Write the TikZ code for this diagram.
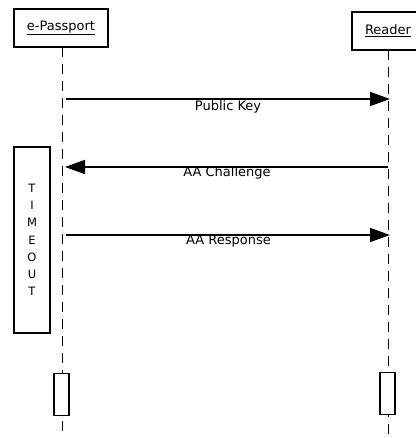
\documentclass[tikz,border=0pt]{standalone}
\usepackage{fontspec}
\setmainfont{DejaVu Sans}
\usetikzlibrary{arrows.meta}
\begin{document}
\begin{tikzpicture}[x=1pt,y=-1pt,
  lbl/.style={font=\fontsize{13}{15}\selectfont, inner sep=0pt},
  actor/.style={draw, line width=1.6pt, fill=white, minimum width=94pt, minimum height=38pt, inner sep=0pt, font=\fontsize{13}{15}\selectfont},
  life/.style={line width=0.9pt, dash pattern=on 10pt off 7pt},
  msg/.style={line width=1.6pt, -{Triangle[length=20pt,width=14pt]}},
  actbox/.style={draw, line width=1.6pt, fill=white},
]
\useasboundingbox (0,0) rectangle (415,438);
% lifelines
\coordinate (pTop) at (62,47);
\coordinate (pBot) at (62,438);
\coordinate (rTop) at (388,50);
\coordinate (rBot) at (388,438);
\draw[life] (pTop) -- (pBot);
\draw[life] (rTop) -- (rBot);
% actor boxes
\node[actor] (pass) at (61,28) {\underline{e-Passport}};
\node[actor, minimum width=72pt] (rdr) at (388,31) {\underline{Reader}};
% messages
\coordinate (m1s) at (66,99);  \coordinate (m1e) at (390,99);
\coordinate (m2s) at (388,167); \coordinate (m2e) at (65,167);
\coordinate (m3s) at (66,235); \coordinate (m3e) at (390,235);
\draw[msg] (m1s) -- (m1e);
\draw[msg] (m2s) -- (m2e);
\draw[msg] (m3s) -- (m3e);
\node[lbl, anchor=north] (l1) at (228,100) {Public Key};
\node[lbl, anchor=north] (l2) at (227,166.5) {AA Challenge};
\node[lbl, anchor=north] (l3) at (228.5,234.5) {AA Response};
% timeout box
\draw[line width=1.4pt] (14,147) rectangle (50,333);
\node[lbl, align=center, font=\fontsize{11.5}{17.2}\selectfont] (to) at (32,240) {T\\I\\M\\E\\O\\U\\T};
% activation boxes
\node[actbox, minimum width=15pt, minimum height=42pt, inner sep=0pt] (pact) at (61.5,394.5) {};
\node[actbox, minimum width=15pt, minimum height=42pt, inner sep=0pt] (ract) at (387.5,393.5) {};
\end{tikzpicture}
\end{document}
